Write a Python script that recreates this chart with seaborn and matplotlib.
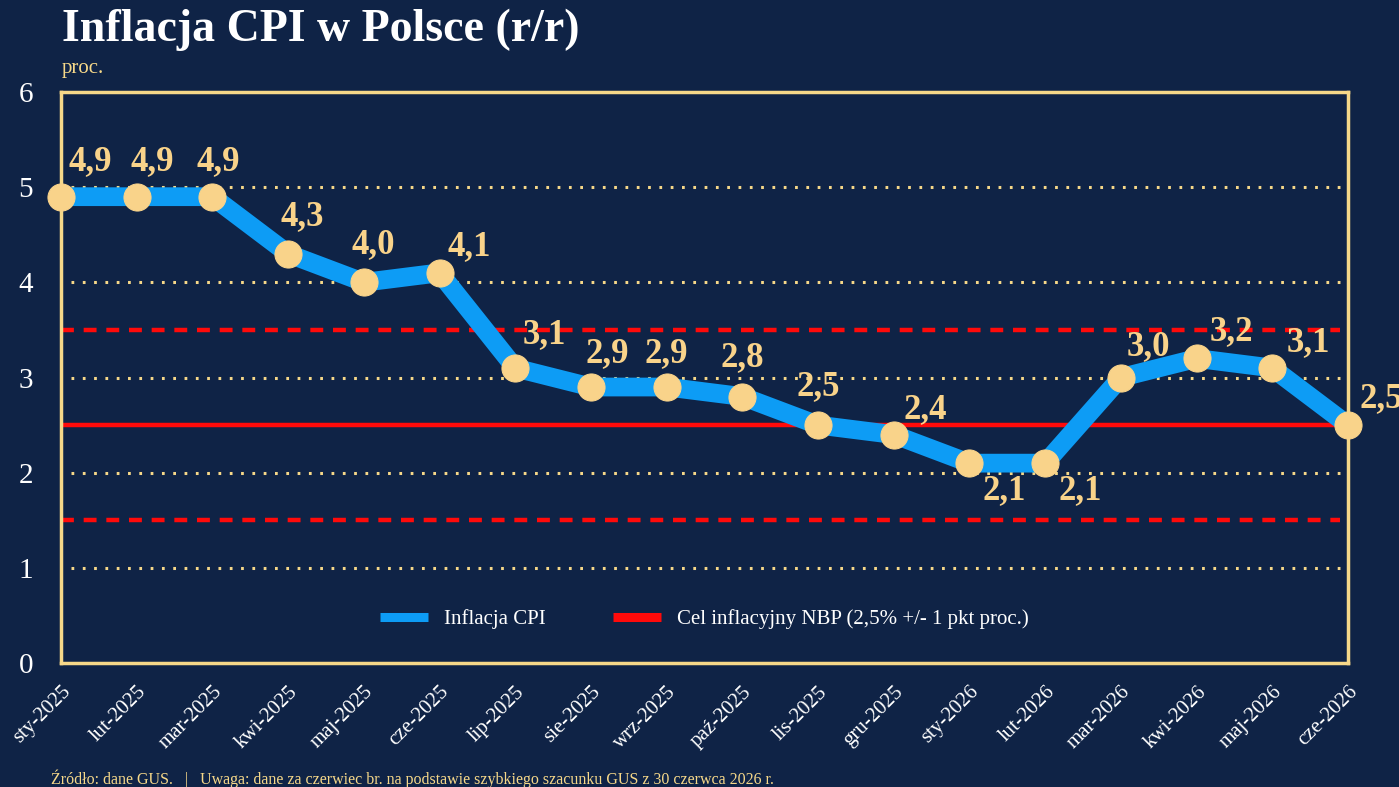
import matplotlib
matplotlib.use("Agg")
import matplotlib.pyplot as plt
import seaborn as sns
import pandas as pd
from matplotlib.lines import Line2D

months = ["sty-2025", "lut-2025", "mar-2025", "kwi-2025", "maj-2025", "cze-2025",
          "lip-2025", "sie-2025", "wrz-2025", "paź-2025", "lis-2025", "gru-2025",
          "sty-2026", "lut-2026", "mar-2026", "kwi-2026", "maj-2026", "cze-2026"]
cpi = [4.9, 4.9, 4.9, 4.3, 4.0, 4.1, 3.1, 2.9, 2.9, 2.8, 2.5, 2.4, 2.1, 2.1, 3.0, 3.2, 3.1, 2.5]
target = 2.5
band_low, band_high = 1.5, 3.5
grid_levels = [1, 2, 3, 4, 5]
yticks = [0, 1, 2, 3, 4, 5, 6]

# label offsets in points (style only)
label_offsets = [(21, 25), (11, 25), (4, 25), (10, 27), (7, 27), (21, 19),
                 (21, 24), (12, 24), (0, 24), (0, 28), (0, 28), (23, 18),
                 (25, -20), (25, -20), (20, 22), (25, 19), (26, 18), (24, 19)]

BG = "#0f2346"
GOLD = "#f6d889"
MARK = "#f9d38a"
BLUE = "#0d9cf5"
RED = "#ff0a0a"

sns.set_theme(style="dark")
plt.rcParams["font.family"] = ["Liberation Serif", "DejaVu Serif"]

df = pd.DataFrame({"i": range(len(months)), "cpi": cpi})

fig = plt.figure(figsize=(13.99, 7.87), dpi=100, facecolor=BG)
ax = fig.add_axes([61/1399, 1-663/787, (1348-61)/1399, (663-92)/787])
ax.set_facecolor(BG)

for g in grid_levels:
    ax.axhline(g, xmin=0.008, xmax=0.994, color=GOLD, lw=2.2, ls=(0, (0.9, 2.8)), zorder=1)
for b in (band_low, band_high):
    ax.axhline(b, xmin=0.0, xmax=0.994, color=RED, lw=3.2, ls=(0, (2.9, 2.2)), zorder=1)
ax.axhline(target, xmin=0.0, xmax=0.994, color=RED, lw=3.2, zorder=1)

sns.lineplot(data=df, x="i", y="cpi", ax=ax, color=BLUE, lw=13.5, zorder=3,
             marker="o", markersize=19.5, markerfacecolor=MARK, markeredgecolor=MARK,
             solid_joinstyle="round", clip_on=False)

for i, v in enumerate(cpi):
    dx, dy = label_offsets[i]
    ax.annotate(f"{v:.1f}".replace(".", ","), (i, v), xytext=(dx, dy),
                textcoords="offset points", ha="center", va="center",
                fontsize=25, fontweight="bold", color=MARK, zorder=5,
                annotation_clip=False)

ax.set_xlim(0, len(months) - 1)
ax.set_ylim(0, 6)
ax.set_xticks(range(len(months)))
ax.set_xticklabels(months, rotation=45, ha="right", rotation_mode="anchor",
                   fontsize=15, color="white")
ax.set_yticks(yticks)
ax.set_yticklabels([str(t) for t in yticks], fontsize=21, color="white")
ax.tick_params(axis="x", direction="inout", length=12, width=2, color=GOLD, pad=8)
ax.tick_params(axis="y", length=0, pad=20)
ax.set_xlabel("")
ax.set_ylabel("")
for s in ax.spines.values():
    s.set_visible(True)
    s.set_color(GOLD)
    s.set_linewidth(2.5)

handles = [Line2D([], [], color=BLUE, lw=6.5, solid_capstyle="butt"),
           Line2D([], [], color=RED, lw=6.5, solid_capstyle="butt")]
leg = ax.legend(handles, ["Inflacja CPI", "Cel inflacyjny NBP (2,5% +/- 1 pkt proc.)"],
                loc="center", bbox_to_anchor=(0.5, 0.077), ncol=2, frameon=False,
                fontsize=15, handlelength=2.3, columnspacing=3.2, handletextpad=0.8)
for t in leg.get_texts():
    t.set_color("white")

fig.text(62/1399, 1-30/787, "Inflacja CPI w Polsce (r/r)", fontsize=33, fontweight="bold",
         color="white", va="center", ha="left")
fig.text(62/1399, 1-69/787, "proc.", fontsize=15, color=GOLD, va="center", ha="left")
fig.text(51/1399, 1-779/787,
         "Źródło: dane GUS.   |   Uwaga: dane za czerwiec br. na podstawie szybkiego szacunku GUS z 30 czerwca 2026 r.",
         fontsize=11.5, color=GOLD, va="center", ha="left")

fig.savefig("out.png", dpi=100, facecolor=BG)
